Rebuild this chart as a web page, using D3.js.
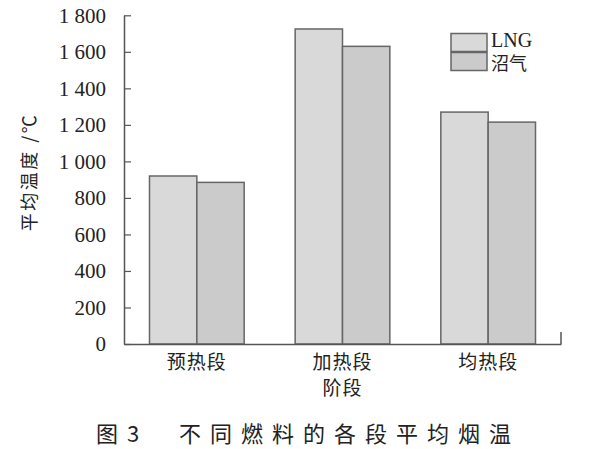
<!DOCTYPE html>
<html><head><meta charset="utf-8">
<script src="https://cdn.jsdelivr.net/npm/d3@7"></script>
<style>
html,body{margin:0;padding:0;background:#fff;}
svg{display:block;}
</style></head>
<body>
<svg id="c" width="600" height="449"></svg>
<script>
const categories = ["预热段", "加热段\n阶段", "均热段"];
const seriesNames = ["LNG", "沼气"];
const lngValues = [920, 1725, 1270];
const biogasValues = [885, 1630, 1215];
const yTicks = [0, 200, 400, 600, 800, 1000, 1200, 1400, 1600, 1800];
const yTickLabels = ["0", "200", "400", "600", "800", "1 000", "1 200", "1 400", "1 600", "1 800"];
const yLabel = "平均温度 /℃";
const title = "图3　不同燃料的各段平均烟温";

(function () {
const colors = ["#d9d9d9", "#cbcbcb"];
const stroke = "#666";
const serif = "Liberation Serif, DejaVu Serif, serif";
const cjk = "Noto Sans CJK SC, Noto Sans CJK JP, sans-serif";

const svg = d3.select("#c");
const pl = 124, pr = 561, pt = 15.3, pb = 344;

const y = d3.scaleLinear().domain([0, 1800]).range([pb, pt]);
const x0 = d3.scaleBand().domain(categories).range([pl, pr]).paddingInner(0.35).paddingOuter(0.175);
const x1 = d3.scaleBand().domain(seriesNames).range([0, x0.bandwidth()]);

const data = categories.map((c, i) => ({cat: c, vals: [lngValues[i], biogasValues[i]]}));

const g = svg.append("g");
data.forEach(d => {
  seriesNames.forEach((s, j) => {
    g.append("rect")
      .attr("x", x0(d.cat) + x1(s))
      .attr("y", y(d.vals[j]))
      .attr("width", x1.bandwidth())
      .attr("height", pb - y(d.vals[j]))
      .attr("fill", colors[j])
      .attr("stroke", stroke)
      .attr("stroke-width", 1.5);
  });
});

const yAxis = d3.axisLeft(y).tickValues(yTicks).tickSizeInner(-7).tickSizeOuter(0)
  .tickFormat((d, i) => yTickLabels[i]).tickPadding(18);
const ya = svg.append("g").attr("transform", `translate(${pl},0)`).call(yAxis);
ya.attr("font-family", serif).attr("font-size", 21);
ya.select(".domain").attr("stroke", "#555").attr("stroke-width", 1.5);
ya.selectAll(".tick line").attr("stroke", "#555").attr("stroke-width", 1.2);
ya.selectAll(".tick text").style("font-family", serif).style("font-size", "21px").attr("fill", "#222")
  .style("white-space", "pre");

const xa = svg.append("g").attr("transform", `translate(0,${pb})`)
  .call(d3.axisBottom(x0).tickSize(0).tickFormat(""));
xa.select(".domain").attr("stroke", "#555").attr("stroke-width", 1.5);
svg.append("line").attr("x1", pr).attr("x2", pr).attr("y1", pb).attr("y2", pb - 12)
  .attr("stroke", "#555").attr("stroke-width", 1.5);

categories.forEach(c => {
  const lines = c.split("\n");
  lines.forEach((ln, k) => {
    svg.append("text").attr("x", x0(c) + x0.bandwidth() / 2).attr("y", 369 + k * 26)
      .attr("text-anchor", "middle").style("font-family", cjk).style("font-size", "19px")
      .attr("letter-spacing", 1).attr("fill", "#222").text(ln);
  });
});

svg.append("text").attr("transform", `translate(36,172) rotate(-90)`)
  .attr("text-anchor", "middle").style("font-family", cjk).style("font-size", "18px")
  .attr("letter-spacing", 2.5).attr("fill", "#222").text(yLabel);

seriesNames.forEach((s, j) => {
  svg.append("rect").attr("x", 451).attr("y", 33.5 + j * 19).attr("width", 36).attr("height", 18)
    .attr("fill", colors[j]).attr("stroke", stroke).attr("stroke-width", 1.5);
  svg.append("text").attr("x", 491).attr("y", j === 0 ? 46.5 : 70)
    .style("font-family", j === 0 ? serif : cjk).style("font-size", j === 0 ? "20px" : "18px")
    .attr("fill", "#222").text(s);
});

svg.append("text").attr("x", 308).attr("y", 442).attr("text-anchor", "middle")
  .style("font-family", cjk).style("font-size", "22px").attr("letter-spacing", 9)
  .attr("fill", "#222").text(title);
})();
</script>
</body></html>
